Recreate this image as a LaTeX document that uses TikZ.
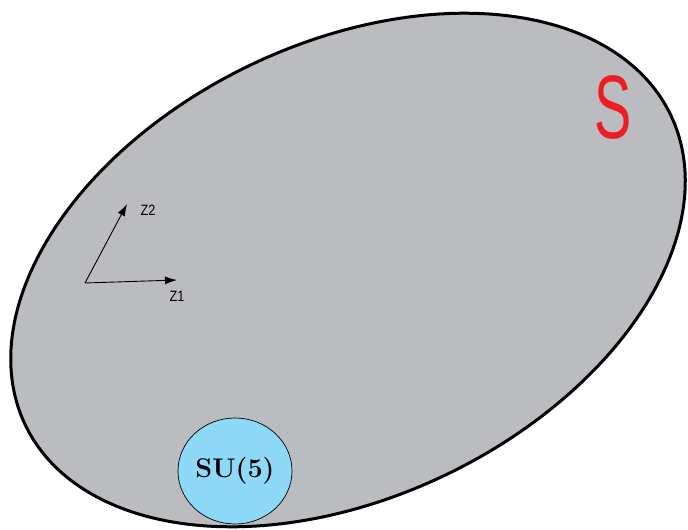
\documentclass[tikz,border=0pt]{standalone}
\usepackage{fontspec}
\newfontfamily\labelfont{Liberation Sans}
\usetikzlibrary{arrows.meta,shapes.geometric}
\definecolor{regiongray}{HTML}{BBBCBF}
\definecolor{sublue}{HTML}{8ED8F8}
\definecolor{sred}{HTML}{EE1C25}
\tikzset{
  region/.style={draw=black, line width=3pt, fill=regiongray},
  axisarrow/.style={line width=0.9pt, -{Latex[length=12pt,width=8pt]}},
  axislabel/.style={font=\labelfont\fontsize{15}{15}\selectfont, xscale=0.85, inner sep=0pt},
  subgroup/.style={ellipse, draw=black, line width=0.7pt, fill=sublue, minimum width=114pt, minimum height=106pt, inner sep=0pt, font=\bfseries\fontsize{27}{27}\selectfont},
}
\begin{document}
\begin{tikzpicture}[x=1pt,y=-1pt]
\useasboundingbox (0,0) rectangle (688,530);
\draw[region] plot[domain=0:360, samples=241, variable=\t]
  ({348 + 358*cos(\t)*0.9011 + 227*sin(\t)*0.4337},
   {270 - 358*cos(\t)*0.4337 + 227*sin(\t)*0.9011}) -- cycle;
\node[text=sred, font=\labelfont\fontsize{90}{90}\selectfont, xscale=0.62, inner sep=0pt] (S) at (613,108) {S};
\coordinate (O) at (85,283);
\coordinate (t1) at (177,280);
\coordinate (t2) at (127,204);
\draw[axisarrow] (O) -- (t1);
\draw[axisarrow] (O) -- (t2);
\node[axislabel] (z1) at (177,296) {Z1};
\node[axislabel] (z2) at (148,210) {Z2};
\node[subgroup] (su5) at (235,471) {SU(5)};
\end{tikzpicture}
\end{document}
